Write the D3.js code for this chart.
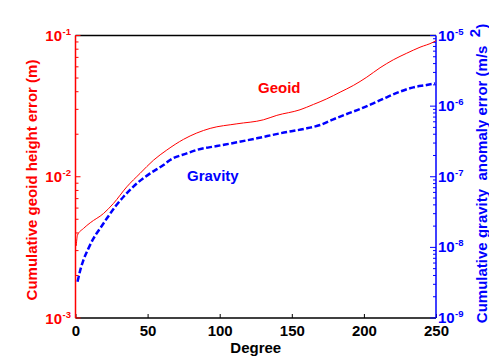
<!DOCTYPE html>
<html><head><meta charset="utf-8">
<script src="https://cdn.jsdelivr.net/npm/d3@7/dist/d3.min.js"></script>
<style>
html,body{margin:0;padding:0;background:#fff;}
svg{display:block;font-family:"Liberation Sans",Arial,sans-serif;font-weight:bold;}
</style></head>
<body>
<svg id="chart" width="489" height="359"></svg>
<script>
// ---- data ----
const degreeGeoid = [0.5, 1, 1.4, 5.5, 10.2, 19.4, 26.3, 35.6, 44.8, 54.1, 63.3, 74.9, 84.1, 93.4, 111.9, 130.3, 139.6, 155.7, 165, 174.2, 183.5, 192.7, 202, 211.2, 220.4, 229.7, 238.9, 248.1, 250];
const geoidError = [3.24e-3, 3.66e-3, 3.87e-3, 4.30e-3, 4.72e-3, 5.49e-3, 6.47e-3, 8.49e-3, 1.057e-2, 1.31e-2, 1.545e-2, 1.84e-2, 2.04e-2, 2.20e-2, 2.37e-2, 2.53e-2, 2.72e-2, 2.98e-2, 3.25e-2, 3.56e-2, 3.97e-2, 4.43e-2, 5.07e-2, 5.91e-2, 6.73e-2, 7.49e-2, 8.26e-2, 8.97e-2, 9.2e-2];
const degreeGravity = [1.4, 3.3, 5.5, 9.0, 12.5, 17.1, 21.8, 27.5, 33.3, 42.6, 51.8, 61, 65.6, 77.2, 84.1, 98, 111.9, 125.7, 141.9, 160.4, 169.6, 178.8, 188.1, 197.3, 206.5, 215.8, 225, 234.3, 243.5, 249.3];
const gravityError = [3.26e-9, 4.76e-9, 6.61e-9, 9.68e-9, 1.34e-8, 1.86e-8, 2.58e-8, 3.76e-8, 5.21e-8, 8.07e-8, 1.117e-7, 1.466e-7, 1.726e-7, 2.14e-7, 2.40e-7, 2.72e-7, 3.07e-7, 3.50e-7, 4.12e-7, 4.85e-7, 5.40e-7, 6.50e-7, 7.73e-7, 9.10e-7, 1.096e-6, 1.334e-6, 1.60e-6, 1.845e-6, 1.99e-6, 2.10e-6];
const xTicks = [0, 50, 100, 150, 200, 250];
const leftExponents = [-3, -2, -1];
const rightExponents = [-9, -8, -7, -6, -5];

// ---- layout ----
const L = 75.5, R = 436, T = 35.5, B = 318;
const svg = d3.select("#chart");
const x = d3.scaleLinear().domain([0, 250]).range([L, R]);
const yL = d3.scaleLog().domain([1e-3, 1e-1]).range([B, T]);
const yR = d3.scaleLog().domain([1e-9, 1e-5]).range([B, T]);

function minorTicks(lo, hi) {
  const out = [];
  for (let e = lo; e < hi; e++) for (let k = 2; k <= 9; k++) out.push(k * Math.pow(10, e));
  return out;
}

// frame top/bottom
svg.append("line").attr("x1", L).attr("x2", R).attr("y1", T).attr("y2", T).attr("stroke", "#000").attr("stroke-width", 1.5);
svg.append("line").attr("x1", L).attr("x2", R).attr("y1", B).attr("y2", B).attr("stroke", "#000").attr("stroke-width", 1.5);

// x axis ticks (inward)
const xAxis = d3.axisBottom(x).tickValues(xTicks).tickSizeInner(-4).tickSizeOuter(0).tickPadding(8);
const gx = svg.append("g").attr("transform", `translate(0,${B})`).call(xAxis);
gx.select(".domain").remove();
gx.selectAll("line").attr("stroke", "#000").attr("stroke-width", 1);
gx.selectAll("text").attr("font-size", 15).attr("font-weight", "bold").attr("fill", "#000")
  .attr("font-family", "Liberation Sans, Arial, sans-serif").attr("dy", "0.71em").attr("y", 7.5);

svg.append("text").attr("x", (L + R) / 2).attr("y", 353).attr("text-anchor", "middle")
  .attr("font-size", 15).attr("fill", "#000").text("Degree");

// left axis
const leftG = svg.append("g");
leftG.selectAll("line.minor").data(minorTicks(-3, -1)).join("line")
  .attr("x1", L).attr("x2", L + 3).attr("y1", d => yL(d)).attr("y2", d => yL(d)).attr("stroke", "red");
leftG.selectAll("line.major").data(leftExponents).join("line")
  .attr("x1", L).attr("x2", L + 5).attr("y1", d => yL(Math.pow(10, d))).attr("y2", d => yL(Math.pow(10, d))).attr("stroke", "red");
leftG.append("line").attr("x1", L).attr("x2", L).attr("y1", T).attr("y2", B).attr("stroke", "red").attr("stroke-width", 1.5);
leftExponents.forEach(e => {
  const yy = yL(Math.pow(10, e));
  leftG.append("text").attr("x", 62).attr("y", yy + 5.5).attr("text-anchor", "end").attr("fill", "red").attr("font-size", 15).text("10");
  leftG.append("text").attr("x", 62.5).attr("y", yy - 0.5).attr("fill", "red").attr("font-size", 9.5).text(String(e));
});

// right axis
const rightG = svg.append("g");
rightG.selectAll("line.minor").data(minorTicks(-9, -5)).join("line")
  .attr("x1", R).attr("x2", R - 3).attr("y1", d => yR(d)).attr("y2", d => yR(d)).attr("stroke", "blue");
rightG.selectAll("line.major").data(rightExponents).join("line")
  .attr("x1", R).attr("x2", R - 6).attr("y1", d => yR(Math.pow(10, d))).attr("y2", d => yR(Math.pow(10, d))).attr("stroke", "blue");
rightG.append("line").attr("x1", R).attr("x2", R).attr("y1", T).attr("y2", B).attr("stroke", "blue").attr("stroke-width", 1.5);
rightExponents.forEach(e => {
  const yy = yR(Math.pow(10, e));
  rightG.append("text").attr("x", 438).attr("y", yy + 5).attr("fill", "blue").attr("font-size", 15).text("10");
  rightG.append("text").attr("x", 455).attr("y", yy - 1).attr("fill", "blue").attr("font-size", 9.5).text(String(e));
});

// curves
const lineG = d3.line().x(d => x(d[0])).y(d => yL(d[1])).curve(d3.curveMonotoneX);
const lineR = d3.line().x(d => x(d[0])).y(d => yR(d[1])).curve(d3.curveMonotoneX);
svg.append("path").datum(degreeGeoid.map((d, i) => [d, geoidError[i]]))
  .attr("d", lineG).attr("fill", "none").attr("stroke", "red").attr("stroke-width", 1);
svg.append("path").datum(degreeGravity.map((d, i) => [d, gravityError[i]]))
  .attr("d", lineR).attr("fill", "none").attr("stroke", "blue").attr("stroke-width", 2.5).attr("stroke-dasharray", "6,2.5");

// series labels
svg.append("text").attr("x", 258).attr("y", 93).attr("fill", "red").attr("font-size", 15).text("Geoid");
svg.append("text").attr("x", 187).attr("y", 181).attr("fill", "blue").attr("font-size", 15).text("Gravity");

// axis titles
svg.append("text").attr("transform", "translate(36.5,180) rotate(-90)").attr("text-anchor", "middle")
  .attr("fill", "red").attr("font-size", 15).text("Cumulative geoid height error (m)");
const rt = svg.append("text").attr("transform", "translate(487,173.5) rotate(-90)").attr("text-anchor", "middle")
  .attr("fill", "blue").attr("font-size", 15).style("white-space", "pre");
rt.append("tspan").text("Cumulative gravity  anomaly error (m/s  ");
rt.append("tspan").attr("dy", -7).text("2");
rt.append("tspan").attr("dy", 7).text(")");
</script>
</body></html>
